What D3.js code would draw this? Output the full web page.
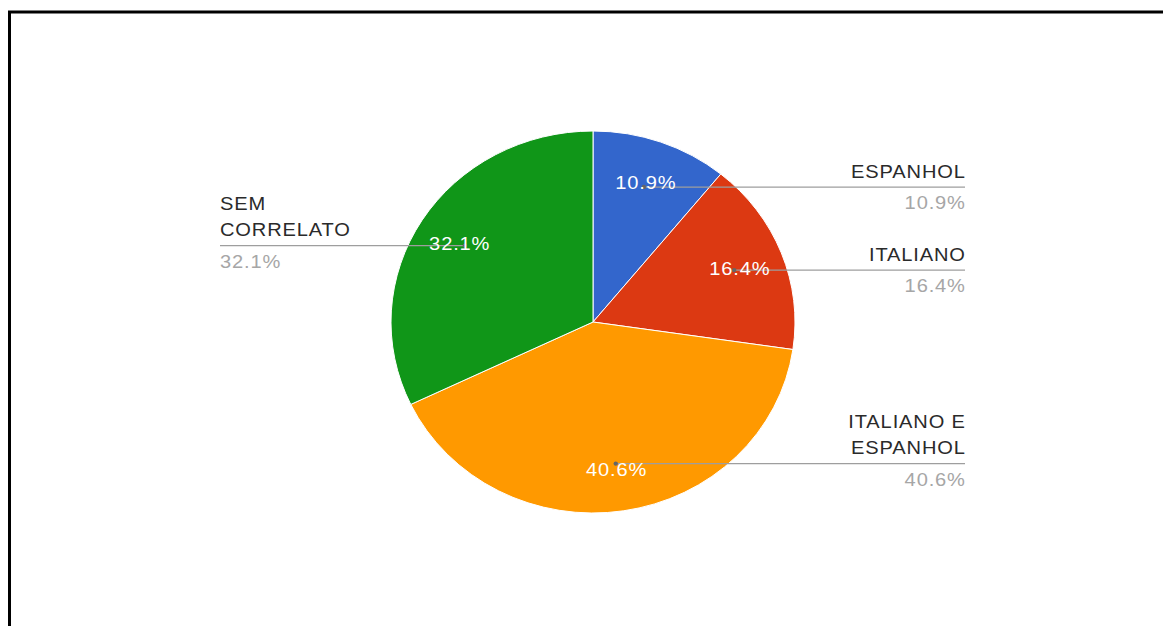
<!DOCTYPE html>
<html>
<head>
<meta charset="utf-8">
<script src="https://cdn.jsdelivr.net/npm/d3@7"></script>
<style>
  body { margin: 0; background: #fff; }
  svg text { font-family: "Liberation Sans", Arial, sans-serif; }
</style>
</head>
<body>
<svg id="chart" width="1163" height="626"></svg>
<script>
const categories = ["ESPANHOL", "ITALIANO", "ITALIANO E ESPANHOL", "SEM CORRELATO"]
const labelLines = [["ESPANHOL"], ["ITALIANO"], ["ITALIANO E", "ESPANHOL"], ["SEM", "CORRELATO"]]
const values = [10.9, 16.4, 40.6, 32.1]
const colors = ["#3366cc", "#dc3912", "#ff9900", "#109618"]

const width = 1163
const height = 626
const cx = 593
const cy = 322
const radius = 191
const stretch = 202 / 191
const dotRadius = radius * 0.75
const textRadius = radius * 0.78
const rightEdge = 965
const leftEdge = 220
const fontSize = 19
const spacing = 0.8

const svg = d3.select("#chart")

svg.append("rect")
  .attr("width", width)
  .attr("height", height)
  .attr("fill", "#fff")

// frame, only top and left edges visible
svg.append("path")
  .attr("d", `M9.5,${height} L9.5,12 L${width},12`)
  .attr("fill", "none")
  .attr("stroke", "#000")
  .attr("stroke-width", 3)

const pie = d3.pie().sort(null).value(d => d)
const arcs = pie(values)
const arc = d3.arc().innerRadius(0).outerRadius(radius)

const g = svg.append("g")
  .attr("transform", `translate(${cx},${cy}) scale(${stretch},1)`)

g.selectAll("path")
  .data(arcs)
  .join("path")
  .attr("d", arc)
  .attr("fill", (d, i) => colors[i])
  .attr("stroke", "#fff")
  .attr("stroke-width", 1)
  .attr("vector-effect", "non-scaling-stroke")

const polar = (a, r) => [cx + stretch * r * Math.sin(a), cy - r * Math.cos(a)]
const mid = d => (d.startAngle + d.endAngle) / 2

// text drawn a little wide, like the reference
function label(x, y, t, anchor, fill) {
  const shift = anchor === "end" ? spacing : 0
  return svg.append("text")
    .attr("transform", `translate(${x + shift},${y}) scale(${stretch},1)`)
    .attr("text-anchor", anchor)
    .attr("font-size", fontSize)
    .attr("letter-spacing", spacing)
    .attr("fill", fill)
    .text(t)
}

// leader lines
arcs.forEach((d, i) => {
  const [x, y] = polar(mid(d), dotRadius)
  const right = x >= cx
  const endX = right ? rightEdge : leftEdge
  const anchor = right ? "end" : "start"

  svg.append("line")
    .attr("x1", x).attr("y1", y)
    .attr("x2", endX).attr("y2", y)
    .attr("stroke", "#9e9e9e")
    .attr("stroke-width", 1.2)

  svg.append("circle")
    .attr("cx", x).attr("cy", y)
    .attr("r", 2.2)
    .attr("fill", "#666")

  const lines = labelLines[i]
  lines.forEach((t, j) => {
    label(endX, y - 9.5 - (lines.length - 1 - j) * 26, t, anchor, "#2a2a2a")
  })

  label(endX, y + 22, d3.format(".1f")(values[i]) + "%", anchor, "#a6a6a6")
})

// labels inside the slices
arcs.forEach(d => {
  const [x, y] = polar(mid(d), textRadius)
  label(x, y + 7, d3.format(".1f")(d.data) + "%", "middle", "#fff")
})
</script>
</body>
</html>
